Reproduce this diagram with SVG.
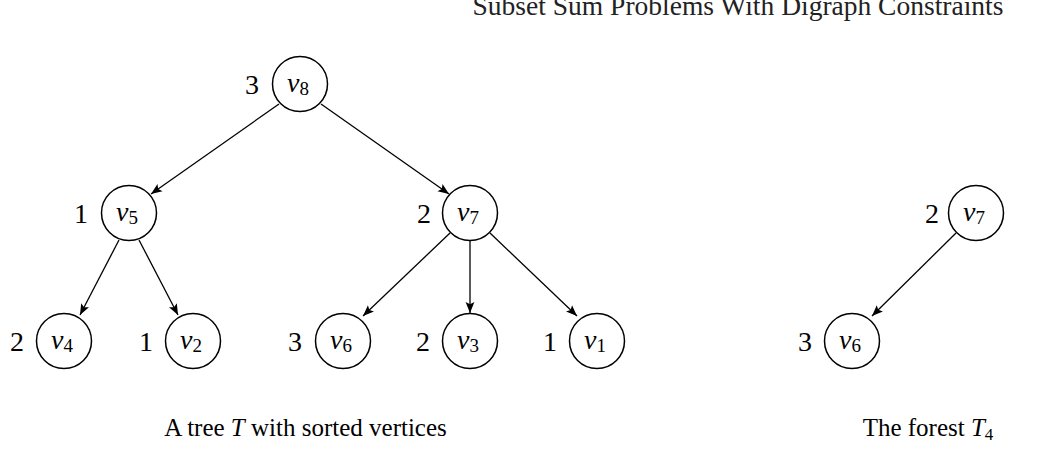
<svg xmlns="http://www.w3.org/2000/svg" width="1063" height="456" viewBox="0 0 1063 456">
<style>
.n{fill:#fff;stroke:#000;stroke-width:1.5}
.v{font-family:"Liberation Serif",serif;font-style:italic;font-size:28px;text-anchor:middle}
.s{font-size:19px;font-style:normal}
.w{font-family:"Liberation Serif",serif;font-size:28px;text-anchor:middle}
.e{stroke:#000;stroke-width:1.3;fill:none;marker-end:url(#ah)}
.c{font-family:"Liberation Serif",serif;font-size:25px}
</style>
<defs>
<marker id="ah" viewBox="0 0 10 10" refX="10" refY="5" markerWidth="11" markerHeight="11" markerUnits="userSpaceOnUse" orient="auto">
<path d="M0,1 L10,5 L0,9 L2,5 Z" fill="#000"/>
</marker>
</defs>
<rect width="1063" height="456" fill="#fff"/>
<text x="738" y="15" font-family="Liberation Serif, serif" font-size="27.5" text-anchor="middle" fill="#222">Subset Sum Problems With Digraph Constraints</text>
<g id="edges">
<line class="e" x1="279" y1="104" x2="151" y2="194"/>
<line class="e" x1="321" y1="104" x2="449" y2="194"/>
<line class="e" x1="119" y1="240" x2="80" y2="315"/>
<line class="e" x1="139" y1="240" x2="178" y2="315"/>
<line class="e" x1="450" y1="233" x2="363" y2="316"/>
<line class="e" x1="470" y1="241" x2="470" y2="313"/>
<line class="e" x1="490" y1="233" x2="577" y2="316"/>
<line class="e" x1="956" y1="233" x2="872" y2="316"/>
</g>
<g id="v8"><circle class="n" cx="300" cy="84" r="27.5"/><text class="v" x="298" y="92">v<tspan class="s" dy="3">8</tspan></text><text class="w" x="252" y="94">3</text></g>
<g id="v5"><circle class="n" cx="129" cy="213" r="27.5"/><text class="v" x="127" y="221">v<tspan class="s" dy="3">5</tspan></text><text class="w" x="81" y="223">1</text></g>
<g id="v7"><circle class="n" cx="470" cy="213" r="27.5"/><text class="v" x="468" y="221">v<tspan class="s" dy="3">7</tspan></text><text class="w" x="424" y="223">2</text></g>
<g id="v4"><circle class="n" cx="64" cy="341" r="27.5"/><text class="v" x="62" y="349">v<tspan class="s" dy="3">4</tspan></text><text class="w" x="17" y="351">2</text></g>
<g id="v2"><circle class="n" cx="193" cy="341" r="27.5"/><text class="v" x="191" y="349">v<tspan class="s" dy="3">2</tspan></text><text class="w" x="146" y="351">1</text></g>
<g id="v6"><circle class="n" cx="343" cy="341" r="27.5"/><text class="v" x="341" y="349">v<tspan class="s" dy="3">6</tspan></text><text class="w" x="295" y="351">3</text></g>
<g id="v3"><circle class="n" cx="470" cy="341" r="27.5"/><text class="v" x="468" y="349">v<tspan class="s" dy="3">3</tspan></text><text class="w" x="423" y="351">2</text></g>
<g id="v1"><circle class="n" cx="597" cy="341" r="27.5"/><text class="v" x="595" y="349">v<tspan class="s" dy="3">1</tspan></text><text class="w" x="550" y="351">1</text></g>
<g id="f-v7"><circle class="n" cx="976" cy="213" r="27.5"/><text class="v" x="974" y="221">v<tspan class="s" dy="3">7</tspan></text><text class="w" x="932" y="223">2</text></g>
<g id="f-v6"><circle class="n" cx="852" cy="341" r="27.5"/><text class="v" x="850" y="349">v<tspan class="s" dy="3">6</tspan></text><text class="w" x="805" y="351">3</text></g>
<text class="c" x="305.5" y="436" text-anchor="middle">A tree <tspan font-style="italic">T</tspan> with sorted vertices</text>
<text class="c" x="928" y="436" text-anchor="middle">The forest <tspan font-style="italic">T</tspan><tspan font-size="17" dy="4">4</tspan></text>
</svg>
